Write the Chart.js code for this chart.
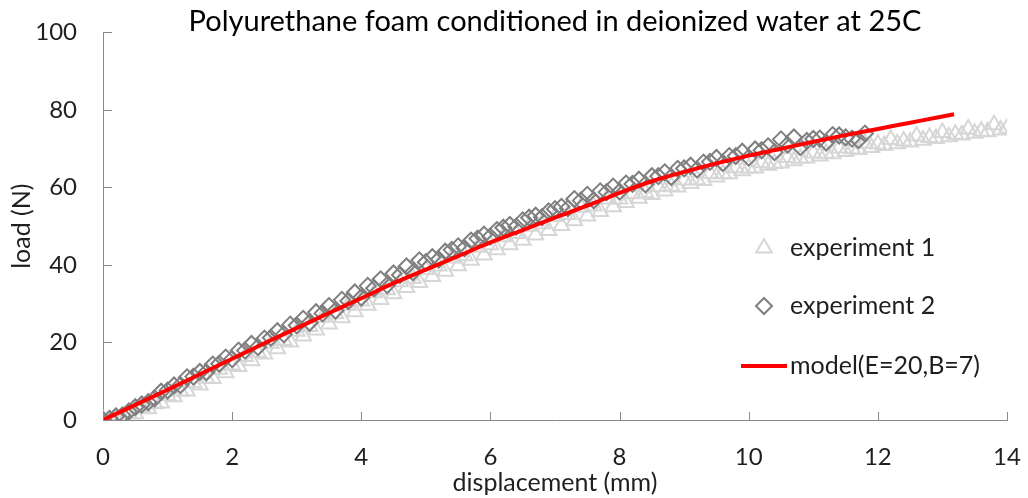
<!DOCTYPE html>
<html>
<head>
<meta charset="utf-8">
<script src="https://cdn.jsdelivr.net/npm/chart.js@4/dist/chart.umd.min.js"></script>
<style>
  body { margin: 0; background: #fff; }
  #wrap { width: 1028px; height: 498px; }
</style>
</head>
<body>
<div id="wrap"><canvas id="chart" width="1028" height="498"></canvas></div>
<script>
// values
const chartTitle = 'Polyurethane foam conditioned in deionized water at 25C';
const xTicks = [0, 2, 4, 6, 8, 10, 12, 14];
const yTicks = [0, 20, 40, 60, 80, 100];

// experiment 1 (light triangles), two passes through the band
const disp1 = [0.0, 0.2, 0.4, 0.6, 0.8, 1.0, 1.2, 1.4, 1.6, 1.8, 2.0, 2.2, 2.4, 2.6, 2.8, 3.0, 3.2, 3.4, 3.6, 3.8,
  4.0, 4.2, 4.4, 4.6, 4.8, 5.0, 5.2, 5.4, 5.6, 5.8, 6.0, 6.2, 6.4, 6.6, 6.8, 7.0, 7.2, 7.4, 7.6, 7.8,
  8.0, 8.2, 8.4, 8.6, 8.8, 9.0, 9.2, 9.4, 9.6, 9.8, 10.0, 10.2, 10.4, 10.6, 10.8, 11.0, 11.2, 11.4, 11.6, 11.8,
  12.0, 12.2, 12.4, 12.6, 12.8, 13.0, 13.2, 13.4, 13.6, 13.8, 14.0];
const load1 = [0.0, 0.6, 1.6, 3.4, 4.2, 6.3, 7.4, 9.6, 10.8, 13.1, 14.2, 16.4, 17.5, 19.8, 20.6, 22.9, 24.1, 26.5, 27.4, 29.6,
  30.7, 32.8, 33.6, 35.7, 36.6, 38.8, 39.7, 41.8, 42.4, 44.6, 45.2, 47.3, 48.1, 50.0, 50.6, 52.5, 53.0, 54.9, 55.2, 57.0,
  57.0, 58.4, 58.6, 60.2, 60.3, 61.9, 62.0, 63.6, 63.5, 65.1, 65.0, 66.4, 66.2, 67.7, 67.5, 68.9, 68.8, 70.2, 70.0, 71.4,
  71.2, 72.4, 72.0, 73.3, 72.9, 74.2, 73.7, 75.1, 74.5, 76.2, 75.3];
const disp1b = [0.1, 0.3, 0.5, 0.7, 0.9, 1.1, 1.3, 1.5, 1.7, 1.9, 2.1, 2.3, 2.5, 2.7, 2.9, 3.1, 3.3, 3.5, 3.7, 3.9,
  4.1, 4.3, 4.5, 4.7, 4.9, 5.1, 5.3, 5.5, 5.7, 5.9, 6.1, 6.3, 6.5, 6.7, 6.9, 7.1, 7.3, 7.5, 7.7, 7.9,
  8.1, 8.3, 8.5, 8.7, 8.9, 9.1, 9.3, 9.5, 9.7, 9.9, 10.1, 10.3, 10.5, 10.7, 10.9, 11.1, 11.3, 11.5, 11.7, 11.9,
  12.1, 12.3, 12.5, 12.7, 12.9, 13.1, 13.3, 13.5, 13.7, 13.9];
const load1b = [0.0, 0.5, 1.6, 2.9, 4.4, 6.0, 7.5, 9.0, 10.7, 12.2, 13.8, 15.3, 17.0, 18.4, 20.1, 21.7, 23.2, 24.8, 26.4, 27.9,
  29.6, 31.1, 32.6, 34.2, 35.5, 37.0, 38.4, 39.8, 41.2, 42.6, 43.9, 45.2, 46.4, 47.7, 48.9, 50.2, 51.4, 52.6, 53.8, 55.0,
  56.1, 57.2, 58.2, 59.1, 60.1, 61.0, 61.8, 62.7, 63.5, 64.3, 65.0, 65.7, 66.3, 66.9, 67.6, 68.1, 68.7, 69.3, 69.8, 70.3,
  70.8, 71.3, 71.7, 72.2, 72.6, 73.1, 73.5, 74.0, 74.4, 74.8];

// experiment 2 (dark diamonds), two passes through the band
const disp2 = [0.0, 0.2, 0.4, 0.6, 0.8, 1.0, 1.2, 1.4, 1.6, 1.8, 2.0, 2.2, 2.4, 2.6, 2.8, 3.0, 3.2, 3.4, 3.6, 3.8,
  4.0, 4.2, 4.4, 4.6, 4.8, 5.0, 5.2, 5.4, 5.6, 5.8, 6.0, 6.2, 6.4, 6.6, 6.8, 7.0, 7.2, 7.4, 7.6, 7.8,
  8.0, 8.2, 8.4, 8.6, 8.8, 9.0, 9.2, 9.4, 9.6, 9.8, 10.0, 10.2, 10.4, 10.6, 10.8, 11.0, 11.2, 11.4, 11.6, 11.8];
const load2 = [0.0, 0.9, 2.2, 4.0, 5.6, 7.6, 9.0, 11.2, 12.3, 14.5, 15.7, 17.9, 18.8, 21.2, 22.1, 24.4, 25.1, 27.5, 28.2, 30.7,
  31.6, 34.0, 34.8, 37.4, 38.1, 40.7, 41.4, 43.9, 44.3, 46.8, 47.3, 49.6, 49.9, 52.2, 52.3, 54.4, 54.6, 56.6, 56.7, 58.8,
  58.9, 60.9, 60.8, 62.9, 62.7, 64.9, 64.6, 66.6, 66.3, 68.1, 67.7, 69.6, 69.1, 71.0, 70.4, 72.5, 71.6, 73.4, 72.6, 73.9];
const disp2b = [0.1, 0.3, 0.5, 0.7, 0.9, 1.1, 1.3, 1.5, 1.7, 1.9, 2.1, 2.3, 2.5, 2.7, 2.9, 3.1, 3.3, 3.5, 3.7, 3.9,
  4.1, 4.3, 4.5, 4.7, 4.9, 5.1, 5.3, 5.5, 5.7, 5.9, 6.1, 6.3, 6.5, 6.7, 6.9, 7.1, 7.3, 7.5, 7.7, 7.9,
  8.1, 8.3, 8.5, 8.7, 8.9, 9.1, 9.3, 9.5, 9.7, 9.9, 10.1, 10.3, 10.5, 10.7, 10.9, 11.1, 11.3, 11.5, 11.7];
const load2b = [0.3, 1.2, 3.3, 4.6, 7.3, 8.9, 11.0, 12.4, 14.3, 16.1, 17.9, 19.6, 21.0, 22.9, 24.6, 26.1, 27.8, 29.4, 31.0, 32.9,
  34.6, 36.3, 37.8, 39.6, 41.2, 42.0, 43.4, 44.8, 46.3, 47.8, 49.0, 50.3, 51.5, 52.7, 53.8, 55.0, 57.0, 58.1, 59.0, 60.2,
  61.0, 62.0, 62.9, 63.9, 64.8, 65.6, 66.4, 67.6, 68.1, 69.2, 69.8, 70.6, 72.4, 72.9, 72.0, 72.6, 73.5, 72.9, 72.2];

// model(E=20,B=7)
const dispM = [0, 0.5, 1, 1.5, 2, 2.5, 3, 3.5, 4, 4.5, 5, 5.5, 6, 6.5, 7, 7.5, 8, 8.5, 9, 9.5, 10, 10.5, 11, 11.5, 12, 12.5, 13, 13.18];
const loadM = [0, 3.9, 7.8, 11.8, 15.8, 19.8, 23.7, 27.6, 31.4, 35.3, 38.8, 42.3, 45.8, 49.0, 52.2, 55.3, 58.6, 61.6, 64.0, 66.2, 68.2, 70.0, 71.8, 73.5, 75.1, 76.7, 78.3, 78.9];

const toPts = (xs, ys) => xs.map((x, i) => ({ x: x, y: ys[i] }));

const FONT = 'Lato, "Noto Sans", sans-serif';
const TXT = '#1f1f1f';
const AXIS = '#898989';

// title centred over the plot area, not the canvas
const plotTitle = {
  id: 'plotTitle',
  afterDraw(chart) {
    const ctx = chart.ctx;
    const area = chart.chartArea;
    ctx.save();
    ctx.fillStyle = '#000';
    ctx.font = '29px ' + FONT;
    ctx.textAlign = 'center';
    ctx.textBaseline = 'middle';
    ctx.fillText(chartTitle, (area.left + area.right) / 2, 22);
    ctx.restore();
  }
};

// ticks inside the plot, like the original
const innerTicks = {
  id: 'innerTicks',
  afterDraw(chart) {
    const ctx = chart.ctx;
    const xs = chart.scales.x, ys = chart.scales.y;
    const area = chart.chartArea;
    ctx.save();
    ctx.strokeStyle = AXIS;
    ctx.lineWidth = 1;
    ctx.beginPath();
    xTicks.forEach(v => {
      const px = Math.round(xs.getPixelForValue(v)) + 0.5;
      ctx.moveTo(px, area.bottom);
      ctx.lineTo(px, area.bottom - 8);
    });
    yTicks.forEach(v => {
      const py = Math.round(ys.getPixelForValue(v)) + 0.5;
      ctx.moveTo(area.left, py);
      ctx.lineTo(area.left + 9, py);
    });
    ctx.stroke();
    ctx.restore();
  }
};

// legend sitting inside the plot on the right
const insideLegend = {
  id: 'insideLegend',
  afterDraw(chart) {
    const ctx = chart.ctx;
    const rows = [
      { ds: chart.data.datasets[2], y: 248 },
      { ds: chart.data.datasets[1], y: 306 },
      { ds: chart.data.datasets[0], y: 366 }
    ];
    rows.forEach(r => {
      const ds = r.ds;
      ctx.save();
      ctx.strokeStyle = ds.borderColor;
      ctx.lineWidth = ds.borderWidth;
      if (ds.showLine) {
        ctx.beginPath();
        ctx.moveTo(741, r.y);
        ctx.lineTo(787, r.y);
        ctx.stroke();
      } else {
        ctx.fillStyle = 'rgba(255,255,255,0)';
        Chart.helpers.drawPoint(ctx, {
          pointStyle: ds.pointStyle,
          radius: ds.pointRadius,
          borderWidth: ds.borderWidth,
          rotation: 0
        }, 764, r.y);
      }
      ctx.fillStyle = TXT;
      ctx.font = '25px ' + FONT;
      ctx.textBaseline = 'middle';
      ctx.fillText(ds.label, 790, r.y);
      ctx.restore();
    });
  }
};

new Chart(document.getElementById('chart'), {
  type: 'scatter',
  data: {
    datasets: [
      {
        label: 'model(E=20,B=7)',
        data: toPts(dispM, loadM),
        showLine: true,
        borderColor: '#ff0000',
        borderWidth: 4,
        pointRadius: 0,
        cubicInterpolationMode: 'monotone',
        order: 0
      },
      {
        label: 'experiment 2',
        data: toPts(disp2, load2).concat(toPts(disp2b, load2b)),
        pointStyle: 'rectRot',
        pointRadius: 8,
        borderColor: '#7f7f7f',
        backgroundColor: 'rgba(255,255,255,0)',
        borderWidth: 2,
        order: 1
      },
      {
        label: 'experiment 1',
        data: toPts(disp1, load1).concat(toPts(disp1b, load1b)),
        pointStyle: 'triangle',
        pointRadius: 9,
        borderColor: '#d6d6d6',
        backgroundColor: 'rgba(255,255,255,0)',
        borderWidth: 2,
        order: 2
      }
    ]
  },
  options: {
    responsive: false,
    animation: false,
    layout: { padding: { left: 0, right: 21, top: 19, bottom: 0 } },
    plugins: {
      legend: { display: false },
      tooltip: { enabled: false },
      title: { display: false }
    },
    scales: {
      x: {
        type: 'linear',
        min: 0,
        max: 14,
        afterFit: s => { s.height = 78; s.paddingRight = 0; s.paddingLeft = 0; },
        afterBuildTicks: s => { s.ticks = xTicks.map(v => ({ value: v })); },
        border: { display: true, color: AXIS, width: 1 },
        grid: { display: false },
        ticks: { color: TXT, padding: 15, font: { family: FONT, size: 24 } },
        title: {
          display: true,
          text: 'displacement (mm)',
          color: TXT,
          font: { family: FONT, size: 25 },
          padding: { top: 0, bottom: 0 }
        }
      },
      y: {
        type: 'linear',
        min: 0,
        max: 100,
        afterFit: s => { s.width = 103; },
        afterBuildTicks: s => { s.ticks = yTicks.map(v => ({ value: v })); },
        border: { display: true, color: AXIS, width: 1 },
        grid: { display: false },
        ticks: { color: TXT, padding: 18, font: { family: FONT, size: 24 } },
        title: {
          display: true,
          text: 'load (N)',
          color: TXT,
          font: { family: FONT, size: 25 },
          padding: { top: 7, bottom: 0 }
        }
      }
    }
  },
  plugins: [innerTicks, insideLegend, plotTitle]
});
</script>
</body>
</html>
